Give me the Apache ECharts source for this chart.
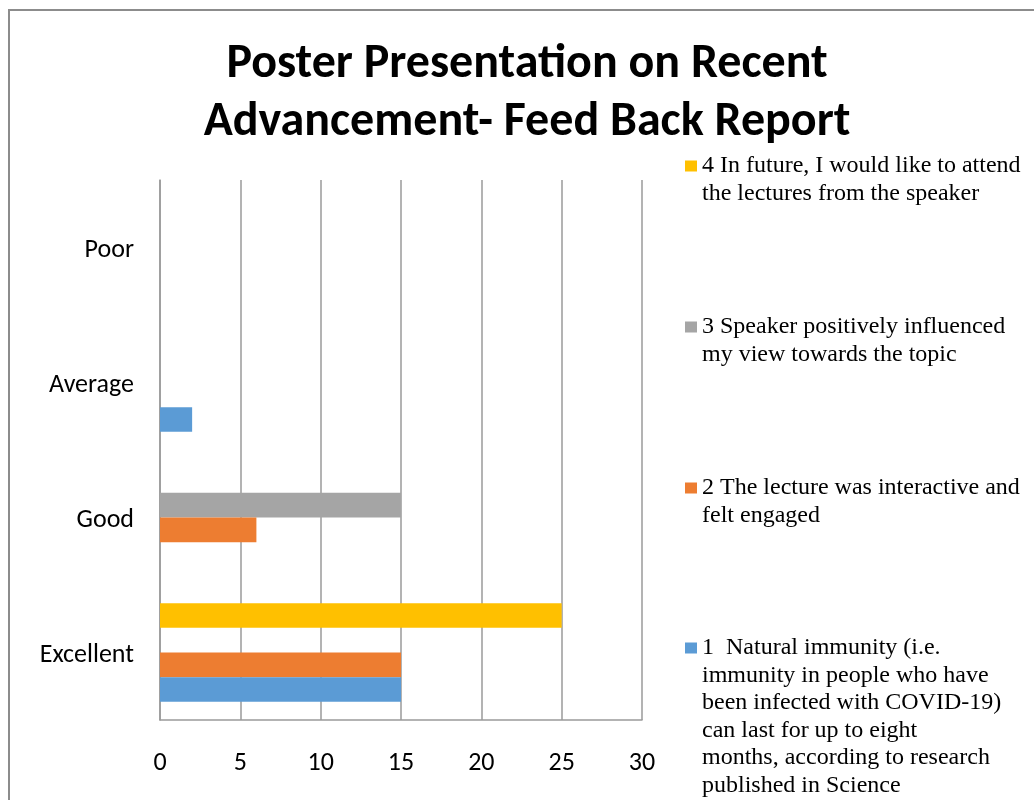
<!DOCTYPE html>
<html>
<head>
<meta charset="utf-8">
<script src="https://cdn.jsdelivr.net/npm/echarts@6/dist/echarts.min.js"></script>
<style>html,body{margin:0;padding:0;background:#fff}#c{width:1034px;height:800px}</style>
</head>
<body>
<div id="c"></div>
<script>
const titleText = 'Poster Presentation on Recent\nAdvancement- Feed Back Report';
const categories = ['Excellent', 'Good', 'Average', 'Poor'];
const xTicks = { min: 0, max: 30, interval: 5 };
const seriesNames = [
  '1  Natural immunity (i.e. immunity in people who have been infected with COVID-19) can last for up to eight months, according to research published in Science',
  '2 The lecture was interactive and felt engaged',
  '3 Speaker positively influenced my view towards the topic',
  '4 In future, I would like to attend the lectures from the speaker'
];
const legendLines = [
  ['1  Natural immunity (i.e.', 'immunity in people who have', 'been infected with COVID-19)', 'can last for up to eight', 'months, according to research', 'published in Science'],
  ['2 The lecture was interactive and', 'felt engaged'],
  ['3 Speaker positively influenced', 'my view towards the topic'],
  ['4 In future, I would like to attend', 'the lectures from the speaker']
];
const series1 = [15, 0, 2, 0];
const series2 = [15, 6, 0, 0];
const series3 = [0, 15, 0, 0];
const series4 = [25, 0, 0, 0];
const seriesValues = [series1, series2, series3, series4];
const colors = ['#5B9BD5', '#ED7D31', '#A5A5A5', '#FFC000'];

const LH = 27.5;
const ICON = 11;
const legendIconCenters = [648, 488, 327, 166];
const labelFont = 'Carlito, Calibri, Lato, "Open Sans", sans-serif';

const chart = echarts.init(document.getElementById('c'), null, { renderer: 'canvas' });

const legends = seriesNames.map((name, i) => {
  const n = legendLines[i].length;
  const totalLines = 2 * n - 1;
  const top = legendIconCenters[i] - totalLines * LH / 2;
  const pad = new Array(n - 1).fill(' ');
  return {
    data: [name],
    left: 685,
    top: top,
    padding: 0,
    itemWidth: 12,
    itemHeight: ICON,
    itemGap: 0,
    icon: 'rect',
    selectedMode: false,
    formatter: () => pad.concat(legendLines[i]).join('\n'),
    textStyle: {
      fontFamily: '"Liberation Serif", "Times New Roman", serif',
      fontSize: 24,
      color: '#000',
      lineHeight: LH
    },
    itemStyle: { borderWidth: 0 }
  };
});

// Excel draws series 1 at the bottom of each category band; ECharts places the
// first series at the top for horizontal bars, so add series in reverse order.
const order = [3, 2, 1, 0];

const option = {
  backgroundColor: '#fff',
  animation: false,
  title: {
    text: titleText,
    left: 527,
    textAlign: 'center',
    top: 36,
    padding: 0,
    textStyle: {
      fontFamily: labelFont,
      fontSize: 48,
      fontWeight: 'bold',
      color: '#000',
      lineHeight: 58
    }
  },
  legend: legends,
  grid: { left: 160, right: 392, top: 180, bottom: 80, containLabel: false },
  xAxis: {
    type: 'value',
    min: xTicks.min,
    max: xTicks.max,
    interval: xTicks.interval,
    axisLine: { show: true, lineStyle: { color: '#9a9a9a', width: 1.5 } },
    axisTick: { show: false },
    splitLine: { show: true, lineStyle: { color: '#9a9a9a', width: 1.5 } },
    axisLabel: {
      fontFamily: labelFont,
      fontSize: 26,
      color: '#000',
      margin: 30
    }
  },
  yAxis: {
    type: 'category',
    data: categories,
    axisLine: { show: true, lineStyle: { color: '#9a9a9a', width: 1.5 } },
    axisTick: { show: false },
    splitLine: { show: false },
    axisLabel: {
      color: '#000',
      margin: 26,
      formatter: v => '{a|' + v + '}',
      rich: {
        a: {
          fontFamily: labelFont,
          fontSize: 26,
          color: '#000',
          padding: [6, 0, 0, 0]
        }
      }
    }
  },
  series: order.map(i => ({
    name: seriesNames[i],
    type: 'bar',
    data: seriesValues[i],
    barGap: '0%',
    barCategoryGap: '27%',
    itemStyle: { color: colors[i] }
  })),
  graphic: [{
    type: 'rect',
    shape: { x: 9, y: 10, width: 1200, height: 1000 },
    style: { fill: 'none', stroke: '#8c8c8c', lineWidth: 2 },
    silent: true,
    z: 100
  }]
};
chart.setOption(option);
</script>
</body>
</html>
